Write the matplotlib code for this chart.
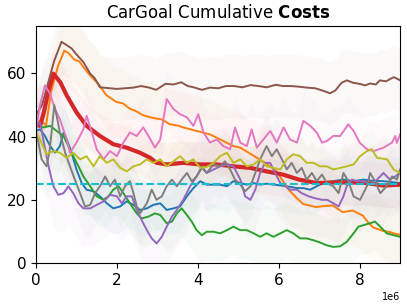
import numpy as np
import matplotlib
matplotlib.use("Agg")
import matplotlib.pyplot as plt

# (step in millions, cost)
blue = [(0, 41.8), (0.1, 42.3), (0.22, 40.2), (0.35, 37), (0.47, 34.9), (0.59, 37), (0.68, 41.3), (0.76, 39.1),
        (0.88, 34.9), (1.0, 29.6), (1.13, 25.3), (1.25, 23.2), (1.42, 22.7), (1.58, 21.1), (1.75, 18.9),
        (1.91, 17.3), (2.08, 17.9), (2.24, 19.5), (2.41, 18.4), (2.57, 16.8), (2.74, 17.3), (2.9, 18.4),
        (3.07, 18.9), (3.23, 16.8), (3.4, 17.3), (3.56, 17.9), (3.73, 21.1), (3.89, 23.7), (4.06, 25.9),
        (4.22, 24.8), (4.39, 24.8), (4.55, 24.8), (4.72, 24.3), (4.88, 25.9), (5.05, 25.3), (5.21, 24.8),
        (5.38, 25.3), (5.54, 24.8), (5.7, 25.1), (5.95, 24.7), (6.2, 24.3), (6.45, 23.7), (6.61, 23.7),
        (6.78, 23.2), (6.94, 24.3), (7.1, 25.3), (7.35, 25.9), (7.6, 26.4), (7.85, 25.9), (8.1, 26.4),
        (8.34, 26.0), (8.59, 25.9), (8.8, 25.6), (9.0, 25.3)]
orange = [(0, 44.5), (0.12, 45), (0.25, 43.6), (0.37, 54), (0.54, 62.2), (0.7, 67.2), (0.8, 66.5), (0.95, 64.3),
          (1.07, 63.8), (1.2, 61.5), (1.32, 59.6), (1.44, 58), (1.56, 56.4), (1.73, 53.2), (1.98, 51),
          (2.15, 50.5), (2.31, 48.9), (2.48, 48), (2.64, 46.8), (2.8, 46.2), (2.97, 45.7), (3.1, 45.5),
          (3.31, 43.9), (3.5, 43.5), (3.64, 42.9), (3.97, 41.8), (4.3, 40.7), (4.63, 38.6), (4.88, 37),
          (5.05, 36.5), (5.36, 34.1), (5.69, 31.5), (5.93, 29.3), (6.1, 26), (6.26, 23), (6.45, 20.5),
          (6.6, 18.7), (6.92, 17.7), (7.1, 18), (7.34, 18.2), (7.58, 16.1), (7.83, 16.6), (8.08, 15),
          (8.2, 13), (8.33, 11.3), (8.57, 10.2), (8.75, 9.8), (8.9, 9.2), (9.0, 9.0)]
green = [(0, 43.4), (0.18, 42.9), (0.35, 43.4), (0.51, 41.8), (0.68, 40.2), (0.8, 37), (0.92, 33.8), (1.05, 30.6),
         (1.17, 27.4), (1.34, 24.3), (1.5, 21.1), (1.67, 20), (1.79, 21.1), (1.91, 23.2), (2.04, 24.3),
         (2.16, 22.1), (2.32, 18.9), (2.49, 15.7), (2.61, 14.1), (2.78, 14.7), (2.94, 15.7), (3.07, 15.2),
         (3.23, 12.6), (3.36, 13.1), (3.48, 15.7), (3.6, 17.3), (3.73, 15.2), (3.85, 13.1), (3.97, 10.4),
         (4.1, 8.8), (4.22, 9.9), (4.39, 9.9), (4.55, 9.4), (4.72, 10.4), (4.88, 11.5), (5.05, 10.4),
         (5.21, 10.4), (5.38, 9.4), (5.54, 8.3), (5.7, 9.4), (5.87, 8.3), (6.04, 9.4), (6.2, 10.4),
         (6.36, 9.4), (6.53, 7.8), (6.69, 7.8), (6.86, 7.2), (7.02, 6.5), (7.19, 5.6), (7.35, 5.1),
         (7.52, 5.3), (7.68, 6.7), (7.85, 9.4), (7.97, 11.5), (8.1, 12), (8.26, 12.6), (8.38, 13.1),
         (8.51, 11.5), (8.67, 9.4), (8.84, 8.8), (9.0, 8.3)]
red = [(0, 44.5), (0.1, 43.4), (0.2, 48), (0.3, 54), (0.43, 59.9), (0.6, 57.2), (0.76, 53), (1.0, 47.7),
       (1.25, 43.4), (1.58, 40.2), (1.91, 37.6), (2.24, 36.5), (2.57, 34.9), (2.82, 33.3), (2.98, 31.7),
       (3.23, 31.2), (3.64, 31.7), (4.06, 31.2), (4.47, 31.2), (4.88, 30.6), (5.3, 30.1), (5.7, 29),
       (6.1, 28), (6.5, 26.4), (6.94, 25.3), (7.35, 25.5), (7.77, 25.5), (8.18, 25.3), (8.6, 24.5), (9.0, 24.8)]
purple = [(0, 43.4), (0.1, 44.5), (0.18, 39.1), (0.31, 30.6), (0.43, 24.3), (0.55, 21.6), (0.68, 22.1),
          (0.8, 24.3), (0.92, 22.1), (1.05, 18.9), (1.17, 17.3), (1.34, 17.3), (1.5, 18.4), (1.67, 19.5),
          (1.83, 21.6), (2.0, 21.1), (2.12, 18.9), (2.24, 21.1), (2.37, 21.1), (2.49, 16.8), (2.61, 13.6),
          (2.74, 10.4), (2.86, 7.8), (2.98, 6.2), (3.11, 8.3), (3.23, 11.5), (3.36, 14.7), (3.48, 16.8),
          (3.64, 20), (3.81, 24.3), (3.97, 27.4), (4.1, 30.6), (4.22, 28.5), (4.39, 29.6), (4.55, 30.6),
          (4.72, 31.2), (4.88, 30.6), (5.05, 26.4), (5.17, 21.1), (5.3, 20), (5.42, 23.2), (5.54, 28.5),
          (5.66, 31.7), (5.79, 31.7), (5.91, 28.5), (6.04, 25.3), (6.16, 24.3), (6.28, 23.2), (6.45, 23.2),
          (6.57, 22.1), (6.74, 21.1), (6.9, 20.5), (7.07, 20), (7.2, 20), (7.35, 18.9), (7.48, 17.9),
          (7.6, 21.1), (7.68, 24.3), (7.81, 26.4), (7.93, 25.9), (8.1, 25.9), (8.26, 24.8), (8.43, 26.4),
          (8.59, 28.5), (8.75, 26.4), (8.88, 27.4), (9.0, 28.5)]
brown = [(0, 46.8), (0.15, 50), (0.3, 57), (0.45, 64), (0.63, 70), (0.75, 69), (0.88, 67.9), (1.0, 66),
         (1.17, 63.6), (1.34, 59.9), (1.45, 58.5), (1.58, 55.6), (1.83, 55.3), (2.0, 55.1), (2.2, 55.3),
         (2.4, 55.5), (2.6, 56), (2.8, 55.5), (2.97, 54.8), (3.2, 56.7), (3.4, 56.5), (3.59, 57.2),
         (3.75, 56), (3.9, 55.6), (4.1, 54.8), (4.3, 55.5), (4.5, 55.3), (4.7, 56), (4.9, 56), (5.1, 55.6),
         (5.3, 56.3), (5.5, 56), (5.7, 55.6), (5.93, 56.4), (6.1, 56), (6.3, 56), (6.5, 55.8), (6.7, 55.5),
         (6.9, 55.3), (7.1, 54.5), (7.27, 53.7), (7.4, 54.6), (7.55, 57), (7.68, 57.8), (7.85, 57),
         (8.0, 56.7), (8.13, 56.2), (8.26, 56.8), (8.4, 56.5), (8.5, 57.8), (8.65, 57.5), (8.84, 58.8),
         (8.9, 58.5), (9.0, 57.8)]
pink = [(0, 42.3), (0.1, 50), (0.22, 56.2), (0.35, 53.5), (0.47, 48.7), (0.59, 45.5), (0.76, 39.1),
        (0.84, 34.9), (1.0, 38.1), (1.17, 42.3), (1.25, 46.6), (1.38, 41.3), (1.5, 36), (1.67, 32.8),
        (1.83, 35.4), (2.0, 33.8), (2.16, 38.1), (2.32, 41.3), (2.49, 40.2), (2.65, 42.9), (2.78, 40.2),
        (2.94, 36.5), (3.07, 39.1), (3.23, 51.9), (3.4, 48.7), (3.56, 47.1), (3.73, 46.1), (3.89, 43.4),
        (4.01, 47.1), (4.14, 41.3), (4.3, 38.1), (4.47, 39.1), (4.63, 37), (4.8, 36), (4.92, 42.9),
        (5.05, 38.1), (5.21, 37), (5.33, 42.3), (5.46, 36.5), (5.62, 39.1), (5.79, 41.8), (5.95, 38.1),
        (6.12, 42.9), (6.28, 39.1), (6.45, 38.1), (6.61, 45), (6.78, 43.4), (6.94, 41.3), (7.07, 38.1),
        (7.19, 38.6), (7.35, 40.2), (7.52, 40.2), (7.72, 43.9), (7.85, 41.8), (8.0, 38.1), (8.18, 36),
        (8.34, 35.4), (8.59, 36.5), (8.8, 38.1), (8.88, 40.2), (8.92, 38), (9.0, 40.7)]
gray = [(0, 41.3), (0.06, 38.1), (0.14, 32.8), (0.26, 30.6), (0.33, 35), (0.39, 42), (0.45, 50), (0.51, 46.6),
        (0.59, 41.3), (0.72, 34.9), (0.84, 30.6), (0.96, 26.4), (1.09, 22.1), (1.21, 17.9), (1.34, 18.4),
        (1.46, 22.1), (1.58, 24.3), (1.71, 27.4), (1.83, 24.3), (1.95, 26.4), (2.08, 21.1), (2.2, 24.3),
        (2.32, 25.9), (2.41, 22.1), (2.49, 17.9), (2.57, 15.7), (2.74, 18.9), (2.86, 23.2), (2.98, 20),
        (3.11, 21.1), (3.23, 24.3), (3.36, 26.4), (3.48, 24.3), (3.6, 26.4), (3.73, 28.5), (3.85, 25.9),
        (3.97, 27.4), (4.1, 30.1), (4.22, 28.5), (4.39, 31.2), (4.55, 30.6), (4.67, 32.2), (4.8, 29.6),
        (4.92, 26.4), (5.05, 24.8), (5.17, 22.7), (5.3, 24.3), (5.42, 28.5), (5.54, 32.8), (5.7, 37),
        (5.83, 33.8), (5.95, 36), (6.08, 32.8), (6.2, 29.6), (6.32, 31.7), (6.45, 28.5), (6.57, 30.1),
        (6.69, 26.4), (6.82, 28.5), (6.94, 25.9), (7.07, 28), (7.19, 25.3), (7.35, 24.3), (7.48, 22.1),
        (7.6, 28.5), (7.72, 25.9), (7.85, 21.1), (8.01, 20), (8.18, 24.3), (8.26, 28.5), (8.38, 25.9),
        (8.51, 22.1), (8.67, 24.3), (8.8, 27.4), (8.92, 26.4), (9.0, 29.6)]
olive = [(0, 41.3), (0.1, 39.1), (0.26, 34.4), (0.43, 35.4), (0.59, 34.9), (0.76, 33.3), (0.92, 34.9),
         (1.09, 32.8), (1.25, 33.8), (1.42, 30.6), (1.58, 33.8), (1.75, 31.7), (1.91, 32.8), (2.08, 30.1),
         (2.24, 29), (2.41, 30.6), (2.57, 31.2), (2.74, 32.8), (2.9, 31.7), (3.07, 32.8), (3.23, 30.6),
         (3.4, 32.2), (3.56, 33.8), (3.73, 31.7), (3.89, 32.8), (4.06, 30.1), (4.22, 30.4), (4.39, 31.7),
         (4.55, 33.8), (4.72, 34.9), (4.88, 31.7), (5.05, 32.8), (5.21, 30.6), (5.38, 31.2), (5.54, 32.8),
         (5.7, 30.6), (5.87, 30.1), (6.04, 29.6), (6.2, 32.8), (6.36, 34.4), (6.53, 33.8), (6.69, 31.7),
         (6.86, 31.7), (7.02, 30.6), (7.19, 30.6), (7.35, 29.6), (7.52, 30.1), (7.68, 30.6), (7.85, 31.2),
         (8.01, 33.8), (8.18, 35.4), (8.3, 36), (8.43, 33.3), (8.68, 32.8), (8.84, 29.6), (9.0, 28.5)]

series = [blue, orange, green, red, purple, brown, pink, gray, olive]
spread = [8, 11, 9, 7, 12, 10, 9, 10, 6]   # rough std band half-width
cost_limit = 25

fig = plt.figure(figsize=(4.07, 3.08), dpi=100)
ax = fig.add_axes([0.0885, 0.146, 0.8945, 0.7696])

for i, (pts, sd) in enumerate(zip(series, spread)):
    x = np.array([p[0] for p in pts]) * 1e6
    y = np.array([p[1] for p in pts])
    color = f"C{i}"
    ax.fill_between(x, y - sd, y + sd, color=color, alpha=0.035, linewidth=0)
    ax.plot(x, y, color=color, lw=3 if i == 3 else 1.4)

ax.axhline(cost_limit, color="C9", ls="--", lw=1.5)

ax.set_xlim(0, 9e6)
ax.set_ylim(0, 75)
ax.set_yticks([0, 20, 40, 60])
ax.tick_params(labelsize=11)
ax.xaxis.get_offset_text().set_fontsize(7)
ax.set_title(r"CarGoal Cumulative $\bf{Costs}$", fontsize=12)

fig.savefig("out.png", dpi=100)
